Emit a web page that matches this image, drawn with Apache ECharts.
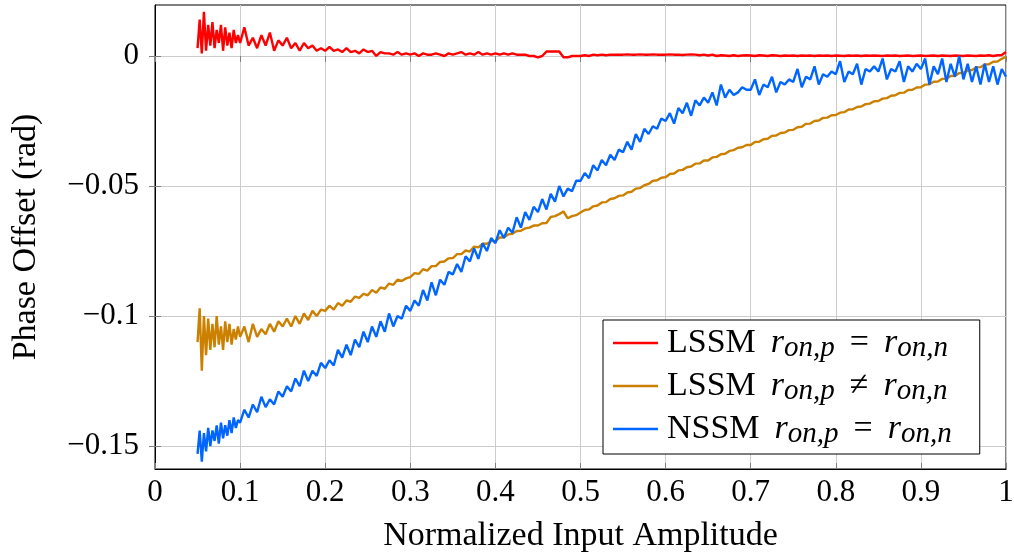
<!DOCTYPE html>
<html>
<head>
<meta charset="utf-8">
<script src="https://cdn.jsdelivr.net/npm/echarts@6/dist/echarts.min.js"></script>
<style>html,body{margin:0;padding:0;background:#fff}#c{width:1014px;height:554px}</style>
</head>
<body>
<div id="c"></div>
<script>
const xs = [
0.0500,0.0525,0.0550,0.0575,0.0600,0.0625,0.0650,0.0675,0.0700,0.0725,
0.0750,0.0775,0.0800,0.0825,0.0850,0.0875,0.0900,0.0925,0.0950,0.0975,
0.100,0.105,0.110,0.115,0.120,0.125,0.130,0.135,0.140,0.145,
0.150,0.155,0.160,0.165,0.170,0.175,0.180,0.185,0.190,0.195,
0.200,0.205,0.210,0.215,0.220,0.225,0.230,0.235,0.240,0.245,
0.250,0.255,0.260,0.265,0.270,0.275,0.280,0.285,0.290,0.295,
0.300,0.305,0.310,0.315,0.320,0.325,0.330,0.335,0.340,0.345,
0.350,0.355,0.360,0.365,0.370,0.375,0.380,0.385,0.390,0.395,
0.400,0.405,0.410,0.415,0.420,0.425,0.430,0.435,0.440,0.445,
0.450,0.455,0.460,0.465,0.470,0.475,0.480,0.485,0.490,0.495,
0.500,0.505,0.510,0.515,0.520,0.525,0.530,0.535,0.540,0.545,
0.550,0.555,0.560,0.565,0.570,0.575,0.580,0.585,0.590,0.595,
0.600,0.605,0.610,0.615,0.620,0.625,0.630,0.635,0.640,0.645,
0.650,0.655,0.660,0.665,0.670,0.675,0.680,0.685,0.690,0.695,
0.700,0.705,0.710,0.715,0.720,0.725,0.730,0.735,0.740,0.745,
0.750,0.755,0.760,0.765,0.770,0.775,0.780,0.785,0.790,0.795,
0.800,0.805,0.810,0.815,0.820,0.825,0.830,0.835,0.840,0.845,
0.850,0.855,0.860,0.865,0.870,0.875,0.880,0.885,0.890,0.895,
0.900,0.905,0.910,0.915,0.920,0.925,0.930,0.935,0.940,0.945,
0.950,0.955,0.960,0.965,0.970,0.975,0.980,0.985,0.990,0.995,
1.000];

const lssmEqual = [
0.003,0.014,0.001,0.017,0.002,0.012,0.004,0.013,0.003,0.010,
0.005,0.012,0.002,0.011,0.004,0.009,0.003,0.010,0.005,0.008,
0.005,0.011,0.004,0.007,0.003,0.008,0.004,0.009,0.002,0.006,
0.004,0.007,0.003,0.005,0.002,0.005,0.003,0.004,0.002,0.003,
0.002,0.0035,0.002,0.0025,0.0015,0.003,0.0015,0.002,0.001,0.0025,
0.0015,0.002,0,0.0015,0.001,0.001,0.0005,0.0015,0.0005,0.001,
0.0005,0.001,0,0.001,0.0005,0.0005,0.001,0.0005,0,0.001,
0.0005,0.001,0.0015,0.0005,0.001,0.0005,0.0015,0.0005,0.001,0.0005,
0.001,0.0005,0.001,0.0005,0.001,0.0005,0.0005,0.0005,0,0,
-0.0005,0,0.0017,0.0017,0.0017,0.0017,-0.0005,-0.0005,0,0,
0,0.0003,0,0.0005,0.0003,0.0005,0.0003,0.0005,0.0005,0.0005,
0.0005,0.0006,0.0005,0.0005,0.0006,0.0005,0.0005,0.0006,0.0005,0.0005,
0.0005,0.0006,0.0005,0.0005,0.0004,0.0005,0.0006,0.0005,0.0003,0.0005,
0.0002,0.0005,0,0.0003,0.0002,0,0.0003,0,0.0002,0.0003,
0.0002,0,0.0003,0.0002,0,0.0003,0.0002,0,0.0002,0.0001,
0.0002,0,0.0002,0.0001,0.0002,0,0.0002,0.0001,0.0002,0,
0.0002,0.0001,0,0.0002,0.0001,0.0002,0,0.0002,0.0001,0.0002,
0.0001,0,0.0002,0.0001,0.0002,0,0.0001,0.0002,0,0.0001,
0.0002,0,0.0001,0.0002,0,0.0002,0.0001,0,0.0002,0.0001,
0,0.0002,0.0001,0,0.0002,0.0001,0.0003,0,0.0003,0.0004,
0.0015];

const lssmNotEqual = [
-0.110,-0.097,-0.121,-0.100,-0.115,-0.101,-0.113,-0.103,-0.112,-0.100,
-0.111,-0.104,-0.113,-0.102,-0.110,-0.103,-0.111,-0.105,-0.109,-0.104,
-0.108,-0.104,-0.110,-0.103,-0.108,-0.105,-0.107,-0.103,-0.106,-0.102,
-0.104,-0.101,-0.104,-0.100,-0.103,-0.099,-0.1015,-0.098,-0.100,-0.0975,
-0.098,-0.096,-0.0975,-0.095,-0.096,-0.094,-0.0945,-0.0925,-0.093,-0.0915,
-0.092,-0.090,-0.091,-0.089,-0.0895,-0.0875,-0.088,-0.086,-0.0865,-0.0855,
-0.085,-0.0835,-0.0838,-0.082,-0.0825,-0.0808,-0.0808,-0.0792,-0.079,-0.0778,
-0.0777,-0.0762,-0.0762,-0.0748,-0.0752,-0.0733,-0.0736,-0.0722,-0.0722,-0.0712,
-0.0712,-0.0698,-0.0697,-0.0686,-0.0684,-0.0673,-0.0672,-0.0663,-0.066,-0.0652,
-0.0652,-0.0643,-0.0642,-0.0619,-0.0616,-0.0608,-0.0598,-0.0624,-0.0616,-0.0612,
-0.0602,-0.0592,-0.0590,-0.0578,-0.0575,-0.0563,-0.0562,-0.0550,-0.0547,-0.0538,
-0.0536,-0.0525,-0.0522,-0.0510,-0.0508,-0.0497,-0.0492,-0.0480,-0.0478,-0.0468,
-0.0466,-0.0454,-0.0452,-0.0440,-0.0438,-0.0428,-0.0425,-0.0414,-0.0413,-0.0402,
-0.0402,-0.0390,-0.0388,-0.0378,-0.0376,-0.0365,-0.0362,-0.0353,-0.0351,-0.0342,
-0.0342,-0.0331,-0.0330,-0.0320,-0.0318,-0.0307,-0.0306,-0.0296,-0.0294,-0.0285,
-0.0284,-0.0274,-0.0272,-0.0261,-0.0260,-0.0250,-0.0248,-0.0238,-0.0237,-0.0228,
-0.0227,-0.0218,-0.0216,-0.0206,-0.0205,-0.0196,-0.0194,-0.0185,-0.0183,-0.0174,
-0.0173,-0.0164,-0.0162,-0.0153,-0.0151,-0.0142,-0.0141,-0.0131,-0.0130,-0.0121,
-0.0120,-0.0110,-0.0109,-0.0099,-0.0098,-0.0088,-0.0087,-0.0077,-0.0076,-0.0066,
-0.0065,-0.0056,-0.0054,-0.0044,-0.0043,-0.0033,-0.0032,-0.0022,-0.0021,-0.0011,
-0.0003];

const nssmEqual = [
-0.153,-0.144,-0.156,-0.145,-0.152,-0.143,-0.150,-0.144,-0.148,-0.142,
-0.149,-0.141,-0.147,-0.142,-0.146,-0.140,-0.145,-0.139,-0.143,-0.140,
-0.141,-0.136,-0.139,-0.134,-0.137,-0.131,-0.135,-0.132,-0.134,-0.129,
-0.131,-0.127,-0.129,-0.124,-0.127,-0.121,-0.125,-0.121,-0.123,-0.118,
-0.120,-0.117,-0.119,-0.113,-0.116,-0.111,-0.115,-0.109,-0.112,-0.106,
-0.110,-0.104,-0.108,-0.102,-0.106,-0.099,-0.104,-0.100,-0.101,-0.096,
-0.098,-0.094,-0.096,-0.090,-0.094,-0.087,-0.092,-0.086,-0.088,-0.083,
-0.084,-0.080,-0.083,-0.077,-0.079,-0.074,-0.078,-0.072,-0.075,-0.070,
-0.072,-0.067,-0.070,-0.066,-0.068,-0.062,-0.066,-0.060,-0.063,-0.058,
-0.060,-0.055,-0.059,-0.053,-0.056,-0.050,-0.054,-0.051,-0.052,-0.048,
-0.048,-0.045,-0.047,-0.042,-0.044,-0.040,-0.042,-0.038,-0.040,-0.036,
-0.037,-0.033,-0.036,-0.030,-0.033,-0.028,-0.030,-0.027,-0.028,-0.024,
-0.025,-0.022,-0.026,-0.020,-0.022,-0.018,-0.023,-0.017,-0.019,-0.016,
-0.018,-0.014,-0.019,-0.011,-0.016,-0.013,-0.015,-0.014,-0.012,-0.013,
-0.013,-0.009,-0.015,-0.011,-0.012,-0.008,-0.014,-0.010,-0.011,-0.009,
-0.010,-0.005,-0.012,-0.008,-0.009,-0.004,-0.011,-0.007,-0.008,-0.006,
-0.007,-0.002,-0.010,-0.006,-0.007,-0.003,-0.011,-0.005,-0.006,-0.004,
-0.006,-0.001,-0.009,-0.005,-0.006,-0.002,-0.010,-0.004,-0.006,-0.003,
-0.005,-0.001,-0.011,-0.004,-0.007,-0.001,-0.010,-0.003,-0.008,0.000,
-0.009,-0.003,-0.010,-0.004,-0.011,-0.003,-0.010,-0.004,-0.011,-0.005,
-0.008];

const xTicks = [0,0.1,0.2,0.3,0.4,0.5,0.6,0.7,0.8,0.9,1];
const yTicks = [-0.15,-0.1,-0.05,0];
const legendParts = [['LSSM','='],['LSSM','\u2260'],['NSSM','=']];
const seriesNames = ['LSSM eq','LSSM neq','NSSM eq'];
const colors = ['#ff0000','#cc8000','#0066ff'];

const FONT = "'Liberation Serif','Times New Roman',serif";
const pair = (ys) => xs.map((x, i) => [x, ys[i]]);
const fmtNum = (v) => {
  if (v === 0) return '0';
  const s = String(Math.abs(+v.toFixed(4)));
  return (v < 0 ? '\u2212' : '') + s;
};

const chart = echarts.init(document.getElementById('c'), null, {renderer: 'canvas'});
const yMin = -0.1588, yMax = 0.0196;
const tickStyle = {show: true, inside: true, length: 6, lineStyle: {color: '#808080', width: 1}};
const labelFont = {fontFamily: FONT, fontSize: 31, color: '#000'};
const nameFont = {fontFamily: FONT, fontSize: 34, color: '#000'};

chart.setOption({
  animation: false,
  backgroundColor: '#fff',
  grid: {left: 155, right: 8, top: 5, bottom: 85, outerBoundsMode: 'none', containLabel: false,
         show: true, borderColor: '#000', borderWidth: 1, backgroundColor: 'transparent'},
  xAxis: [{
    type: 'value', min: 0, max: 1, interval: 0.1, position: 'bottom',
    name: 'Normalized Input Amplitude', nameLocation: 'middle', nameGap: 50,
    nameTextStyle: nameFont,
    axisLine: {show: true, onZero: false, lineStyle: {color: '#000', width: 1}},
    axisTick: tickStyle,
    axisLabel: Object.assign({margin: 8, formatter: (v) => fmtNum(v)}, labelFont),
    splitLine: {show: true, lineStyle: {color: '#cccccc', width: 1}}
  }, {
    type: 'value', min: 0, max: 1, interval: 0.1, position: 'top',
    axisLine: {show: false}, axisTick: tickStyle, axisLabel: {show: false}, splitLine: {show: false}
  }],
  yAxis: [{
    type: 'value', min: yMin, max: yMax, position: 'left',
    name: 'Phase Offset (rad)', nameLocation: 'middle', nameGap: 112, nameRotate: 90,
    nameTextStyle: nameFont,
    axisLine: {show: true, onZero: false, lineStyle: {color: '#000', width: 1}},
    axisTick: Object.assign({customValues: yTicks}, tickStyle),
    axisLabel: Object.assign({margin: 16, customValues: yTicks, formatter: (v) => fmtNum(v)}, labelFont),
    splitLine: {show: true, customValues: yTicks, lineStyle: {color: '#cccccc', width: 1}}
  }, {
    type: 'value', min: yMin, max: yMax, position: 'right',
    axisLine: {show: false},
    axisTick: Object.assign({customValues: yTicks}, tickStyle),
    axisLabel: {show: false}, splitLine: {show: false}
  }],
  legend: {
    orient: 'vertical', left: 603, top: 320,
    padding: [6, 28, 5, 10], itemGap: 6, itemWidth: 45, itemHeight: 14,
    backgroundColor: '#fff', borderColor: '#000', borderWidth: 1, borderRadius: 0,
    data: seriesNames.map((n, i) => ({name: n, icon: 'path://M0,0 L45,0 L45,2.4 L0,2.4 Z', itemStyle: {color: colors[i]}})),
    formatter: (name) => {
      const p = legendParts[seriesNames.indexOf(name)];
      return '{g|}{t|' + p[0] + '}{a|}{i|r}{s|on,p}{b|}{t|' + p[1] + '}{b|}{i|r}{s|on,n}';
    },
    textStyle: {
      fontFamily: FONT, fontSize: 34, color: '#000',
      rich: {
        g: {width: 4, lineHeight: 40},
        a: {width: 15, lineHeight: 40},
        b: {width: 15, lineHeight: 40},
        t: {fontFamily: FONT, fontSize: 34, lineHeight: 40, color: '#000'},
        i: {fontFamily: FONT, fontSize: 34, fontStyle: 'italic', lineHeight: 40, color: '#000'},
        s: {fontFamily: FONT, fontSize: 29, fontStyle: 'italic', lineHeight: 24, verticalAlign: 'bottom', color: '#000'}
      }
    }
  },
  series: [lssmEqual, lssmNotEqual, nssmEqual].map((ys, i) => ({
    name: seriesNames[i], type: 'line', data: pair(ys), showSymbol: false, symbol: 'none',
    xAxisIndex: 0, yAxisIndex: 0,
    lineStyle: {color: colors[i], width: 2.4}, itemStyle: {color: colors[i]}
  }))
});
</script>
</body>
</html>
